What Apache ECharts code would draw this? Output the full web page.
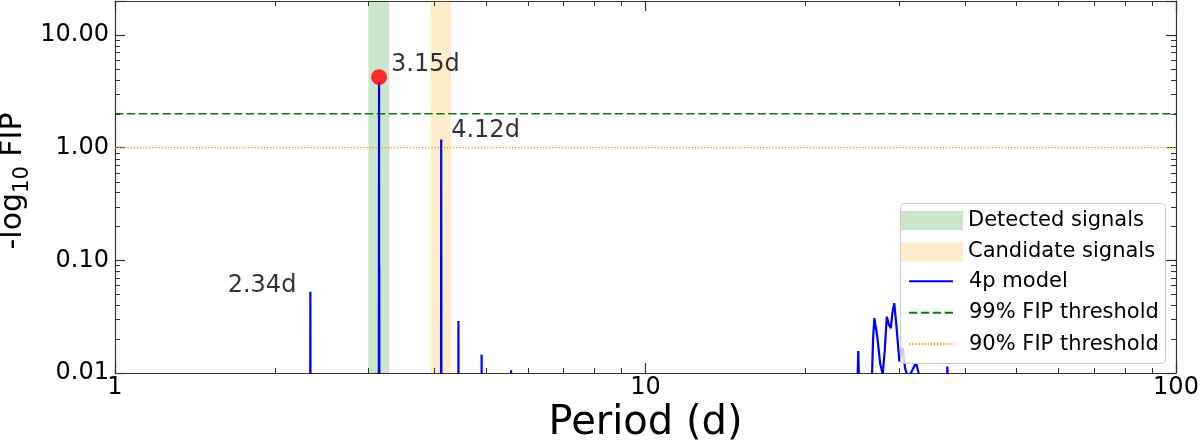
<!DOCTYPE html>
<html><head><meta charset="utf-8">
<script src="https://cdn.jsdelivr.net/npm/echarts@6/dist/echarts.min.js"></script>
<style>html,body{margin:0;padding:0;background:#fff}#c{width:1200px;height:444px}</style>
</head><body><div id="c"></div>
<script>
// ---- data ----
const modelPeriod = [1.0, 2.330, 2.335, 2.340, 3.140, 3.146, 3.1475, 3.149, 3.151,
  4.114, 4.120, 4.126, 4.435, 4.440, 4.445, 4.905, 4.910, 4.915, 5.575, 5.580, 5.585,
  24.9, 25.18, 25.45, 26.55, 26.85, 27.0, 27.35, 27.7, 28.0, 28.25, 28.5, 28.75, 29.0, 29.2, 29.44, 29.7,
  30.1, 30.3, 30.54, 30.85, 31.3, 31.9, 32.36, 32.9, 33.5, 36.8, 37.07, 37.3, 100];
const modelFip = [1e-4, 1e-4, 0.0527, 1e-4, 1e-4, 3.8, 1e-3, 0.088, 1e-4,
  1e-4, 1.18, 1e-4, 1e-4, 0.029, 1e-4, 1e-4, 0.0145, 1e-4, 1e-4, 0.0106, 1e-4,
  0.002, 0.0157, 0.002, 0.003, 0.02, 0.0307, 0.021, 0.012, 0.0098, 0.016, 0.0316, 0.027, 0.025, 0.034, 0.0417, 0.027,
  0.0127, 0.014, 0.0167, 0.011, 0.009, 0.0108, 0.0123, 0.009, 0.003, 0.003, 0.0114, 0.003, 1e-4];
const peakPeriod = [3.146];
const peakFip = [4.22];
const annoText = ['3.15d', '4.12d', '2.34d'];
const annoPeriod = [3.146, 4.12, 2.335];
const annoFip = [4.22, 1.18, 0.0527];
const detectedBand = [3.003, 3.289];
const candidateBand = [3.937, 4.299];
const fip99 = 2.0;
const fip90 = 1.0;
const xRange = [1, 100];
const yRange = [0.01, 20];
const xMinorTicks = [2,3,4,5,6,7,8,9,20,30,40,50,60,70,80,90];
const yMinorTicks = [0.02,0.03,0.04,0.05,0.06,0.07,0.08,0.09,0.2,0.3,0.4,0.5,0.6,0.7,0.8,0.9,2,3,4,5,6,7,8,9];

// ---- styles ----
const FONT = "'DejaVu Sans', sans-serif";
const AX = '#333';
const annoLabelStyle = [
  {position: 'right', distance: 12, offset: [0, -12]},
  {position: 'right', distance: 10, offset: [0, -9]},
  {position: 'left', distance: 14, offset: [0, -6]}
];
const isPow10 = v => { const l = Math.log10(v); return Math.abs(l - Math.round(l)) < 1e-6; };

const chart = echarts.init(document.getElementById('c'), null, {renderer: 'canvas'});

function minorTick(axis) {
  return (params, api) => {
    const cs = params.coordSys;
    const p = api.coord([api.value(0), api.value(1)]);
    const st = {stroke: AX, lineWidth: 1};
    if (axis === 'x') {
      const x = Math.round(p[0]) + 0.5;
      return {type: 'group', children: [
        {type: 'line', shape: {x1: x, y1: cs.y + cs.height, x2: x, y2: cs.y + cs.height - 5}, style: st},
        {type: 'line', shape: {x1: x, y1: cs.y, x2: x, y2: cs.y + 5}, style: st}
      ]};
    }
    const y = Math.round(p[1]) + 0.5;
    return {type: 'group', children: [
      {type: 'line', shape: {x1: cs.x, y1: y, x2: cs.x + 5, y2: y}, style: st},
      {type: 'line', shape: {x1: cs.x + cs.width, y1: y, x2: cs.x + cs.width - 5, y2: y}, style: st}
    ]};
  };
}

const axisCommon = {
  type: 'log', logBase: 10,
  axisLine: {show: true, lineStyle: {color: AX, width: 1.2}},
  axisTick: {show: true, inside: true, length: 10, lineStyle: {color: AX, width: 1.2}},
  splitLine: {show: false},
  minorTick: {show: false},
  nameMoveOverlap: false
};

const option = {
  animation: false,
  backgroundColor: '#fff',
  textStyle: {fontFamily: FONT},
  grid: {left: 115, right: 24, top: 1, bottom: 71, containLabel: false, outerBoundsMode: 'none'},
  xAxis: [
    Object.assign({}, axisCommon, {
      min: xRange[0], max: xRange[1], position: 'bottom',
      axisLabel: {fontSize: 24, color: '#000', fontFamily: FONT, margin: 3,
        formatter: v => isPow10(v) ? String(Math.round(v)) : ''},
      name: 'Period (d)', nameLocation: 'middle', nameGap: 31,
      nameTextStyle: {fontSize: 40, color: '#000', fontFamily: FONT}
    }),
    Object.assign({}, axisCommon, {
      min: xRange[0], max: xRange[1], position: 'top', axisLabel: {show: false}
    })
  ],
  yAxis: [
    Object.assign({}, axisCommon, {
      min: yRange[0], max: yRange[1], position: 'left',
      axisLabel: {fontSize: 24, color: '#000', fontFamily: FONT, margin: 6,
        formatter: v => isPow10(v) ? v.toFixed(2) : ''},
      name: '{pad| }-log{s|10} FIP', nameLocation: 'middle', nameGap: 82,
      nameTextStyle: {fontSize: 30, color: '#000', fontFamily: FONT, lineHeight: 40,
        rich: {
          s: {fontSize: 21, lineHeight: 21, verticalAlign: 'bottom', fontFamily: FONT, color: '#000'},
          pad: {fontSize: 30, width: 12, fontFamily: FONT}
        }}
    }),
    Object.assign({}, axisCommon, {
      min: yRange[0], max: yRange[1], position: 'right', axisLabel: {show: false}
    })
  ],
  legend: [
    {
      orient: 'vertical', left: 901, top: 210, padding: 0,
      itemWidth: 62, itemHeight: 19, itemGap: 10.4,
      textStyle: {fontSize: 21, color: '#000', fontFamily: FONT, lineHeight: 20},
      itemStyle: {borderWidth: 0},
      data: [{name: 'Detected signals', icon: 'rect'}, {name: 'Candidate signals', icon: 'rect'}],
      selectedMode: false
    },
    {
      orient: 'vertical', left: 908, top: 270.8, padding: 0,
      itemWidth: 44, itemHeight: 20, itemGap: 10.4,
      textStyle: {fontSize: 21, color: '#000', fontFamily: FONT, lineHeight: 20, padding: [0, 0, 0, 11]},
      itemStyle: {opacity: 0},
      data: ['4p model', '99% FIP threshold', '90% FIP threshold'],
      selectedMode: false
    }
  ],
  graphic: {
    elements: [{
      type: 'rect', z: 3, silent: true,
      shape: {x: 900.5, y: 203.5, width: 265, height: 160, r: 4},
      style: {fill: 'rgba(255,255,255,0.8)', stroke: '#cccccc', lineWidth: 1}
    }]
  },
  series: [
    {
      name: 'Detected signals', type: 'line', data: [], symbol: 'none',
      itemStyle: {color: 'rgba(0,128,0,0.2)'}, color: 'rgba(0,128,0,0.2)', z: 1,
      markArea: {silent: true, itemStyle: {color: 'rgba(0,128,0,0.2)'},
        data: [[{xAxis: detectedBand[0]}, {xAxis: detectedBand[1]}]]}
    },
    {
      name: 'Candidate signals', type: 'line', data: [], symbol: 'none',
      itemStyle: {color: 'rgba(255,165,0,0.2)'}, color: 'rgba(255,165,0,0.2)', z: 1,
      markArea: {silent: true, itemStyle: {color: 'rgba(255,165,0,0.2)'},
        data: [[{xAxis: candidateBand[0]}, {xAxis: candidateBand[1]}]]}
    },
    {
      name: '99% FIP threshold', type: 'line', symbol: 'none', z: 2,
      data: [[xRange[0], fip99], [xRange[1], fip99]],
      color: '#008000',
      lineStyle: {color: '#008000', width: 1.6, type: [8.3, 3.6]}
    },
    {
      name: '90% FIP threshold', type: 'line', symbol: 'none', z: 2,
      data: [[xRange[0], fip90], [xRange[1], fip90]],
      color: '#ffa500',
      lineStyle: {color: '#ffa500', width: 1.2, type: [1.5, 1.6]}
    },
    {
      name: '4p model', type: 'line', symbol: 'none', showSymbol: false, z: 2, clip: true,
      data: modelPeriod.map((p, i) => [p, modelFip[i]]),
      color: '#0000ff',
      lineStyle: {color: '#0000ff', width: 2.2}
    },
    {
      name: 'peak', type: 'scatter', symbol: 'circle', symbolSize: 16, z: 2,
      data: peakPeriod.map((p, i) => [p, peakFip[i]]),
      itemStyle: {color: '#ff0000'}
    },
    {
      name: 'annotations', type: 'scatter', symbolSize: 0, z: 2, silent: true,
      data: annoText.map((t, i) => ({
        name: t, value: [annoPeriod[i], annoFip[i]],
        label: Object.assign({show: true, formatter: '{b}', fontSize: 24, color: '#000', fontFamily: FONT}, annoLabelStyle[i])
      }))
    },
    {
      name: 'xminor', type: 'custom', silent: true, z: 5, clip: false,
      renderItem: minorTick('x'),
      data: xMinorTicks.map(v => [v, 1])
    },
    {
      name: 'yminor', type: 'custom', silent: true, z: 5, clip: false,
      renderItem: minorTick('y'),
      data: yMinorTicks.map(v => [2, v])
    }
  ]
};
chart.setOption(option);
</script>
</body></html>
